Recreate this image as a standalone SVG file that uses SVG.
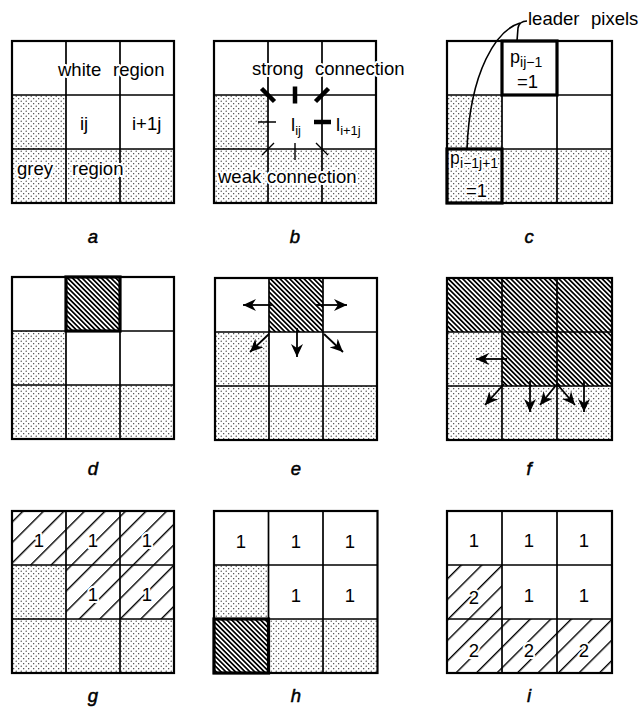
<svg xmlns="http://www.w3.org/2000/svg" width="641" height="708" viewBox="0 0 641 708">
<defs>
<pattern id="dots" patternUnits="userSpaceOnUse" width="5" height="5"><circle cx="1.2" cy="1.2" r="0.62" fill="#222"/><circle cx="3.7" cy="3.7" r="0.62" fill="#222"/></pattern>
<pattern id="hd" patternUnits="userSpaceOnUse" width="3.4" height="10" patternTransform="rotate(-45)"><rect x="0" y="0" width="1.7" height="10" fill="#000"/></pattern>
<pattern id="hs" patternUnits="userSpaceOnUse" width="14.5" height="10" patternTransform="rotate(45)"><rect x="0" y="0" width="1.4" height="10" fill="#000"/></pattern>
<marker id="ah" viewBox="0 0 14 12" refX="13" refY="6" markerWidth="14" markerHeight="12" markerUnits="userSpaceOnUse" orient="auto"><path d="M13,6 L0,0 L4,6 L0,12 Z" fill="#000"/></marker>
</defs>
<style>
.dot{fill:url(#dots)}
.hd{fill:url(#hd)}
.hs{fill:url(#hs)}
.grid{fill:none;stroke:#000;stroke-width:1.7}
.frame{fill:none;stroke:#000;stroke-width:2.2}
.thick{fill:none;stroke:#000;stroke-width:3.2}
.t{font-family:"Liberation Sans",Arial,sans-serif;font-size:18.5px;fill:#000}
.pc{font-size:18px}
.halo{paint-order:stroke;stroke:#fff;stroke-width:4;stroke-linejoin:round}
.num{font-family:"Liberation Sans",Arial,sans-serif;font-size:18.5px;text-anchor:middle;fill:#000;paint-order:stroke;stroke:#fff;stroke-width:4;stroke-linejoin:round}
.lab{font-family:"Liberation Sans",Arial,sans-serif;font-size:18.5px;font-style:italic;text-anchor:middle;fill:#000;stroke:#000;stroke-width:0.5}
.arr{stroke:#000;stroke-width:1.8;fill:none;marker-end:url(#ah)}
.ldr{stroke:#000;stroke-width:1.6;fill:none}
.strong{stroke:#000;stroke-width:4.5;fill:none}
.weak{stroke:#000;stroke-width:1.4;fill:none}
</style>
<rect x="0" y="0" width="641" height="708" fill="#fff"/>

<g id="panel-a">
<rect class="dot" x="12" y="95" width="54" height="54"/>
<rect class="dot" x="12" y="149" width="162" height="54"/>
<path class="grid" d="M66,41V203M120,41V203M12,95H174M12,149H174"/>
<rect class="frame" x="12" y="41" width="162" height="162"/>
<text class="t halo" y="76"><tspan x="58">white</tspan><tspan x="113">region</tspan></text>
<text class="t" x="80" y="130">ij</text>
<text class="t" x="132" y="130">i+1j</text>
<text class="t halo" y="175"><tspan x="17">grey</tspan><tspan x="72">region</tspan></text>
<text class="lab" x="93" y="243">a</text>
</g>

<g id="panel-b">
<rect class="dot" x="214" y="95" width="54" height="54"/>
<rect class="dot" x="214" y="149" width="162" height="54"/>
<path class="grid" d="M268,41V203M322,41V203M214,95H376M214,149H376"/>
<rect class="frame" x="214" y="41" width="162" height="162"/>
<text class="t halo" y="75"><tspan x="252">strong</tspan><tspan x="315">connection</tspan></text>
<path class="strong" d="M261.5,88.5L274.5,101.5M295,86.5V103.5M315.5,101.5L328.5,88.5M314,122H331"/>
<path class="weak" d="M258,122H276M262,155L274,143M295,143V160M316,143L328,155"/>
<text class="t" x="291" y="131">l<tspan font-size="13" dy="4">ij</tspan></text>
<text class="t" x="336" y="131">l<tspan font-size="13" dy="4">i+1j</tspan></text>
<text class="t halo" y="183"><tspan x="218">weak</tspan><tspan x="267">connection</tspan></text>
<text class="lab" x="295" y="243">b</text>
</g>

<g id="panel-c">
<rect class="dot" x="447" y="95" width="55" height="54"/>
<rect class="dot" x="447" y="149" width="165" height="54"/>
<path class="grid" d="M502,41V203M557,41V203M447,95H612M447,149H612"/>
<rect class="frame" x="447" y="41" width="165" height="162"/>
<rect class="thick" x="502" y="41" width="55" height="54"/>
<rect class="thick" x="447" y="149" width="55" height="54"/>
<text class="t pc" x="510" y="63">p<tspan font-size="14" dy="4">ij−1</tspan></text>
<text class="t" x="517" y="88" font-size="17">=1</text>
<text class="t pc halo" x="450" y="164">p<tspan font-size="14" dy="4">i−1j+1</tspan></text>
<text class="t halo" x="466" y="197" font-size="17">=1</text>
<text class="t" y="25"><tspan x="528">leader</tspan><tspan x="591">pixels</tspan></text>
<text class="lab" x="529" y="243">c</text>
</g>

<g id="panel-d">
<rect class="hd" x="66" y="277" width="54" height="54"/>
<rect class="dot" x="12" y="331" width="54" height="54"/>
<rect class="dot" x="12" y="385" width="162" height="54"/>
<path class="grid" d="M66,277V439M120,277V439M12,331H174M12,385H174"/>
<rect class="frame" x="12" y="277" width="162" height="162"/>
<rect class="thick" x="66" y="277" width="54" height="54"/>
<text class="lab" x="93" y="475">d</text>
</g>

<g id="panel-e">
<rect class="hd" x="269" y="278" width="54" height="54"/>
<rect class="dot" x="215" y="332" width="54" height="54"/>
<rect class="dot" x="215" y="386" width="162" height="54"/>
<path class="grid" d="M269,278V440M323,278V440M215,332H377M215,386H377"/>
<rect class="frame" x="215" y="278" width="162" height="162"/>
<text class="lab" x="296" y="475">e</text>
</g>

<g id="panel-f">
<rect class="hd" x="447" y="278" width="165" height="54"/>
<rect class="hd" x="502" y="332" width="110" height="54"/>
<rect class="dot" x="447" y="332" width="55" height="54"/>
<rect class="dot" x="447" y="386" width="165" height="54"/>
<path class="grid" d="M502,278V440M557,278V440M447,332H612M447,386H612"/>
<rect class="frame" x="447" y="278" width="165" height="162"/>
<text class="lab" x="529" y="475">f</text>
</g>

<g id="panel-g">
<rect class="hs" x="12" y="511" width="162" height="54"/>
<rect class="hs" x="66" y="565" width="108" height="54"/>
<rect class="dot" x="12" y="565" width="54" height="54"/>
<rect class="dot" x="12" y="619" width="162" height="54"/>
<path class="grid" d="M66,511V673M120,511V673M12,565H174M12,619H174"/>
<rect class="frame" x="12" y="511" width="162" height="162"/>
<text class="num" x="39" y="547">1</text>
<text class="num" x="93" y="547">1</text>
<text class="num" x="147" y="547">1</text>
<text class="num" x="93" y="601">1</text>
<text class="num" x="147" y="601">1</text>
<text class="lab" x="93" y="702">g</text>
</g>

<g id="panel-h">
<rect class="dot" x="214" y="565" width="54.5" height="54"/>
<rect class="dot" x="268.5" y="619" width="109" height="54"/>
<rect class="hd" x="214" y="619" width="54.5" height="54"/>
<path class="grid" d="M268.5,511V673M323,511V673M214,565H377.5M214,619H377.5"/>
<rect class="frame" x="214" y="511" width="163.5" height="162"/>
<rect class="thick" x="214" y="619" width="54.5" height="54"/>
<text class="num" x="241" y="548">1</text>
<text class="num" x="296" y="548">1</text>
<text class="num" x="350" y="548">1</text>
<text class="num" x="296" y="602">1</text>
<text class="num" x="350" y="602">1</text>
<text class="lab" x="296" y="702">h</text>
</g>

<g id="panel-i">
<rect class="hs" x="447" y="565" width="55" height="54"/>
<rect class="hs" x="447" y="619" width="165" height="54"/>
<path class="grid" d="M502,511V673M557,511V673M447,565H612M447,619H612"/>
<rect class="frame" x="447" y="511" width="165" height="162"/>
<text class="num" x="474" y="547">1</text>
<text class="num" x="529" y="547">1</text>
<text class="num" x="584" y="547">1</text>
<text class="num" x="474" y="604">2</text>
<text class="num" x="529" y="602">1</text>
<text class="num" x="584" y="602">1</text>
<text class="num" x="474" y="657">2</text>
<text class="num" x="529" y="657">2</text>
<text class="num" x="584" y="657">2</text>
<text class="lab" x="529" y="702">i</text>
</g>

<g id="connectors">
<path class="ldr" d="M527,21C522,21 519,23 518,28L517,41"/>
<path class="ldr" d="M520,23C497,30 470,70 467,149"/>
<path class="arr" d="M273,305H243"/>
<path class="arr" d="M316,305H347"/>
<path class="arr" d="M269,334L250,352"/>
<path class="arr" d="M297,328V357"/>
<path class="arr" d="M324,334L343,352"/>
<path class="arr" d="M507,359H476"/>
<path class="arr" d="M504,384L485,405"/>
<path class="arr" d="M530,381V412"/>
<path class="arr" d="M557,384L540,405"/>
<path class="arr" d="M557,384L575,405"/>
<path class="arr" d="M584,381V412"/>
</g>
</svg>
